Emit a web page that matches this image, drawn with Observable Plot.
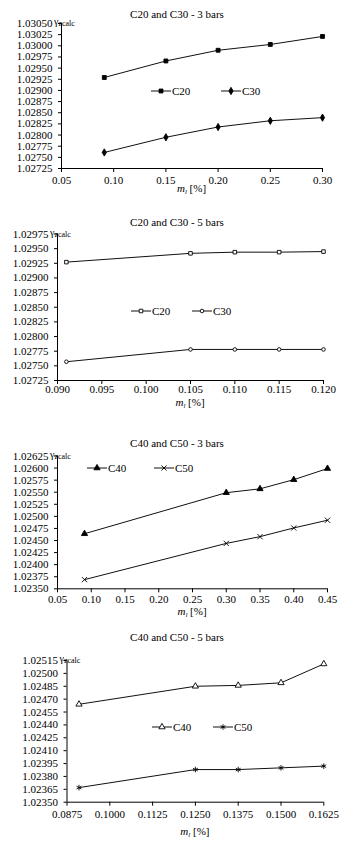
<!DOCTYPE html>
<html><head><meta charset="utf-8">
<script src="https://cdn.jsdelivr.net/npm/d3@7"></script>
<script src="https://cdn.jsdelivr.net/npm/@observablehq/plot@0.6"></script>
<style>
html,body{margin:0;padding:0;background:#fff;}
#root{width:354px;}
svg{display:block;}
svg text{font-family:'Liberation Serif','Times New Roman',serif !important;}
</style></head><body><div id="root"></div>
<script>
// ---- Data ----
const titles = ["C20 and C30 - 3 bars", "C20 and C30 - 5 bars", "C40 and C50 - 3 bars", "C40 and C50 - 5 bars"];

const xP1 = [0.091, 0.15, 0.20, 0.25, 0.30];
const c20P1 = [1.02929, 1.02966, 1.02990, 1.03003, 1.03021];
const c30P1 = [1.02761, 1.02795, 1.02818, 1.02832, 1.02839];

const xP2 = [0.091, 0.105, 0.110, 0.115, 0.120];
const c20P2 = [1.02927, 1.02942, 1.02944, 1.02944, 1.02945];
const c30P2 = [1.02757, 1.02778, 1.02778, 1.02778, 1.02778];

const xP3 = [0.09, 0.30, 0.35, 0.40, 0.45];
const c40P3 = [1.02464, 1.02549, 1.02557, 1.02576, 1.02599];
const c50P3 = [1.02369, 1.02444, 1.02458, 1.02476, 1.02492];

const xP4 = [0.091, 0.125, 0.1375, 0.15, 0.1625];
const c40P4 = [1.02464, 1.02485, 1.02486, 1.02489, 1.02511];
const c50P4 = [1.02367, 1.02388, 1.02388, 1.02390, 1.02392];

const yTicksP1 = [1.02725, 1.02750, 1.02775, 1.02800, 1.02825, 1.02850, 1.02875, 1.02900, 1.02925, 1.02950, 1.02975, 1.03000, 1.03025, 1.03050];
const xTicksP1 = [0.05, 0.10, 0.15, 0.20, 0.25, 0.30];
const yTicksP2 = [1.02725, 1.02750, 1.02775, 1.02800, 1.02825, 1.02850, 1.02875, 1.02900, 1.02925, 1.02950, 1.02975];
const xTicksP2 = [0.090, 0.095, 0.100, 0.105, 0.110, 0.115, 0.120];
const yTicksP3 = [1.02350, 1.02375, 1.02400, 1.02425, 1.02450, 1.02475, 1.02500, 1.02525, 1.02550, 1.02575, 1.02600, 1.02625];
const xTicksP3 = [0.05, 0.10, 0.15, 0.20, 0.25, 0.30, 0.35, 0.40, 0.45];
const yTicksP4 = [1.02350, 1.02365, 1.02380, 1.02395, 1.02410, 1.02425, 1.02440, 1.02455, 1.02470, 1.02485, 1.02500, 1.02515];
const xTicksP4 = [0.0875, 0.1000, 0.1125, 0.1250, 0.1375, 0.1500, 0.1625];

const FONT = "'Liberation Serif', 'Times New Roman', serif";

const panels = [
  {title: titles[0], x: xP1, xTicks: xTicksP1, yTicks: yTicksP1, xFmt: ".2f", yFmt: ".5f",
   height: 205, mt: 23, mb: 37, ml: 61, mr: 32, titleY: 18, xLabelY: 192, xPad: 4, legendY: 91, legendX: [151, 221],
   series: [
     {name: "C20", values: c20P1, symbol: "square", fill: "#000", r: 2.2},
     {name: "C30", values: c30P1, symbol: "diamond", fill: "#000", r: 2.2}]},
  {title: titles[1], x: xP2, xTicks: xTicksP2, yTicks: yTicksP2, xFmt: ".3f", yFmt: ".5f",
   height: 205, mt: 28.5, mb: 30, ml: 57, mr: 31, titleY: 225.5 - 205, xLabelY: 406 - 205, xPad: 1, legendY: 311 - 205, legendX: [131, 192],
   series: [
     {name: "C20", values: c20P2, symbol: "square", fill: "#fff", r: 2},
     {name: "C30", values: c30P2, symbol: "circle", fill: "#fff", r: 1.8}]},
  {title: titles[2], x: xP3, xTicks: xTicksP3, yTicks: yTicksP3, xFmt: ".2f", yFmt: ".5f",
   height: 210, mt: 45.5, mb: 31.7, ml: 57, mr: 27, titleY: 447 - 410, xLabelY: 615 - 410, xPad: 2, legendY: 468 - 410, legendX: [87, 154],
   series: [
     {name: "C40", values: c40P3, symbol: "triangle", fill: "#000", r: 2.3},
     {name: "C50", values: c50P3, symbol: "times", fill: "none", r: 2.5}]},
  {title: titles[3], x: xP4, xTicks: xTicksP4, yTicks: yTicksP4, xFmt: ".4f", yFmt: ".5f",
   height: 223, mt: 40, mb: 41.3, ml: 66.5, mr: 30.7, titleY: 641 - 620, xLabelY: 835 - 620, xPad: 4, legendY: 727 - 620, legendX: [152, 213],
   series: [
     {name: "C40", values: c40P4, symbol: "triangle", fill: "#fff", r: 2.3},
     {name: "C50", values: c50P4, symbol: "asterisk", fill: "none", r: 2.6}]}
];

const symbolMap = {square: d3.symbolSquare, diamond: d3.symbolDiamond, circle: d3.symbolCircle,
  triangle: d3.symbolTriangle, times: d3.symbolTimes, asterisk: d3.symbolAsterisk};

const root = document.getElementById("root");

for (const p of panels) {
  const xDomain = [p.xTicks[0], p.xTicks[p.xTicks.length - 1]];
  const yDomain = [p.yTicks[0], p.yTicks[p.yTicks.length - 1]];
  const seriesMarks = p.series.flatMap(s => {
    const rows = s.values.map((v, i) => ({x: p.x[i], y: v}));
    return [
      Plot.line(rows, {x: "x", y: "y", stroke: "#111", strokeWidth: 1}),
      Plot.dot(rows, {x: "x", y: "y", symbol: s.symbol, r: s.r, fill: s.fill, stroke: "#000", strokeWidth: 0.9})
    ];
  });
  const chart = Plot.plot({
    width: 354, height: p.height,
    marginTop: p.mt, marginBottom: p.mb, marginLeft: p.ml, marginRight: p.mr,
    style: {fontFamily: FONT, fontSize: "11px", color: "#000", background: "#fff", overflow: "visible"},
    x: {domain: xDomain},
    y: {domain: yDomain},
    marks: [
      Plot.axisY({ticks: p.yTicks, tickFormat: d3.format(p.yFmt), tickSize: 3, tickPadding: 6, label: null}),
      Plot.axisX({ticks: p.xTicks, tickFormat: d3.format(p.xFmt), tickSize: 4, tickPadding: p.xPad, label: null}),
      Plot.ruleX([xDomain[0]], {stroke: "#000"}),
      Plot.ruleY([yDomain[0]], {stroke: "#000"}),
      ...seriesMarks
    ]
  });
  root.appendChild(chart);
  const svg = d3.select(chart);
  // title
  svg.append("text").attr("x", 177).attr("y", p.titleY).attr("text-anchor", "middle")
    .attr("font-size", 11).text(p.title);
  // y label
  const yl = svg.append("text").attr("x", p.ml - 7).attr("y", p.mt + 2).attr("text-anchor", "start").attr("font-size", 10);
  yl.append("tspan").text("γ");
  yl.append("tspan").attr("font-size", 8).attr("dy", 1).text("zcalc");
  // x label
  const xl = svg.append("text").attr("x", p.ml + (354 - p.ml - p.mr) / 2).attr("y", p.xLabelY)
    .attr("text-anchor", "middle").attr("font-size", 11);
  xl.append("tspan").attr("font-style", "italic").text("m");
  xl.append("tspan").attr("font-style", "italic").attr("font-size", 7).attr("dy", 2).text("l");
  xl.append("tspan").attr("dy", -2).text(" [%]");
  // legend
  p.series.forEach((s, i) => {
    const lx = p.legendX[i], ly = p.legendY;
    const g = svg.append("g");
    g.append("line").attr("x1", lx).attr("x2", lx + 20).attr("y1", ly).attr("y2", ly).attr("stroke", "#111");
    g.append("path").attr("transform", `translate(${lx + 10},${ly})`)
      .attr("d", d3.symbol(symbolMap[s.symbol], s.r * s.r * Math.PI)())
      .attr("fill", s.fill).attr("stroke", "#000").attr("stroke-width", 0.9);
    g.append("text").attr("x", lx + 21).attr("y", ly + 4).attr("text-anchor", "start").attr("font-size", 11).text(s.name);
  });
}
</script></body></html>
